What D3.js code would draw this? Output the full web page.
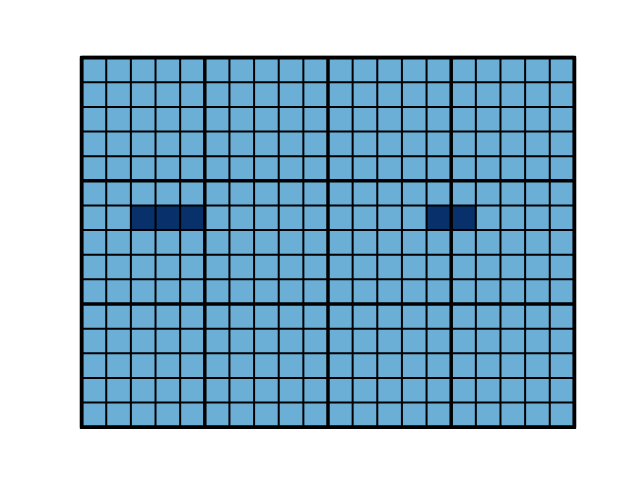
<!DOCTYPE html>
<html>
<head>
<meta charset="utf-8">
<script src="https://cdn.jsdelivr.net/npm/d3@7"></script>
<style>
  body { margin: 0; background: #fff; }
  svg { display: block; }
</style>
</head>
<body>
<svg></svg>
<script>
// grid values, one row per line (0 = light cell, 1 = dark cell)
var row0  = [0,0,0,0,0, 0,0,0,0,0, 0,0,0,0,0, 0,0,0,0,0];
var row1  = [0,0,0,0,0, 0,0,0,0,0, 0,0,0,0,0, 0,0,0,0,0];
var row2  = [0,0,0,0,0, 0,0,0,0,0, 0,0,0,0,0, 0,0,0,0,0];
var row3  = [0,0,0,0,0, 0,0,0,0,0, 0,0,0,0,0, 0,0,0,0,0];
var row4  = [0,0,0,0,0, 0,0,0,0,0, 0,0,0,0,0, 0,0,0,0,0];
var row5  = [0,0,0,0,0, 0,0,0,0,0, 0,0,0,0,0, 0,0,0,0,0];
var row6  = [0,0,1,1,1, 0,0,0,0,0, 0,0,0,0,1, 1,0,0,0,0];
var row7  = [0,0,0,0,0, 0,0,0,0,0, 0,0,0,0,0, 0,0,0,0,0];
var row8  = [0,0,0,0,0, 0,0,0,0,0, 0,0,0,0,0, 0,0,0,0,0];
var row9  = [0,0,0,0,0, 0,0,0,0,0, 0,0,0,0,0, 0,0,0,0,0];
var row10 = [0,0,0,0,0, 0,0,0,0,0, 0,0,0,0,0, 0,0,0,0,0];
var row11 = [0,0,0,0,0, 0,0,0,0,0, 0,0,0,0,0, 0,0,0,0,0];
var row12 = [0,0,0,0,0, 0,0,0,0,0, 0,0,0,0,0, 0,0,0,0,0];
var row13 = [0,0,0,0,0, 0,0,0,0,0, 0,0,0,0,0, 0,0,0,0,0];
var row14 = [0,0,0,0,0, 0,0,0,0,0, 0,0,0,0,0, 0,0,0,0,0];
var rows = [row0,row1,row2,row3,row4,row5,row6,row7,row8,row9,row10,row11,row12,row13,row14];

var nCols = 20, nRows = 15, block = 5;
var svgWidth = 640, svgHeight = 480;
var cell = 24.64;
var gridLeft = 328 - cell * nCols / 2; // centred in axes box
var gridTop = 57.6;

var svg = d3.select('svg')
    .attr("width", svgWidth)
    .attr("height", svgHeight);

var x = d3.scaleLinear().domain([0, nCols]).range([gridLeft, gridLeft + cell * nCols]);
var y = d3.scaleLinear().domain([0, nRows]).range([gridTop, gridTop + cell * nRows]);
var color = d3.scaleOrdinal().domain([0, 1]).range(["#6baed6", "#08306b"]);

var cells = [];
rows.forEach(function(r, i) {
    r.forEach(function(v, j) { cells.push({r: i, c: j, v: v}); });
});

svg.selectAll("rect.cell")
    .data(cells)
    .enter()
    .append("rect")
    .attr("class", "cell")
    .attr("x", function(d) { return x(d.c); })
    .attr("y", function(d) { return y(d.r); })
    .attr("width", x(1) - x(0))
    .attr("height", y(1) - y(0))
    .attr("fill", function(d) { return color(d.v); });

// grid lines, heavier every 5 cells
svg.selectAll("line.v")
    .data(d3.range(nCols + 1))
    .enter()
    .append("line")
    .attr("class", "v")
    .attr("x1", function(d) { return x(d); })
    .attr("x2", function(d) { return x(d); })
    .attr("y1", y(0))
    .attr("y2", y(nRows))
    .attr("stroke", "#000")
    .attr("stroke-width", function(d) { return d % block === 0 ? 3.5 : 2; });

svg.selectAll("line.h")
    .data(d3.range(nRows + 1))
    .enter()
    .append("line")
    .attr("class", "h")
    .attr("y1", function(d) { return y(d); })
    .attr("y2", function(d) { return y(d); })
    .attr("x1", x(0))
    .attr("x2", x(nCols))
    .attr("stroke", "#000")
    .attr("stroke-width", function(d) { return d % block === 0 ? 3.5 : 2; });

svg.append("rect")
    .attr("x", x(0))
    .attr("y", y(0))
    .attr("width", x(nCols) - x(0))
    .attr("height", y(nRows) - y(0))
    .attr("fill", "none")
    .attr("stroke", "#000")
    .attr("stroke-width", 3.5);
</script>
</body>
</html>
